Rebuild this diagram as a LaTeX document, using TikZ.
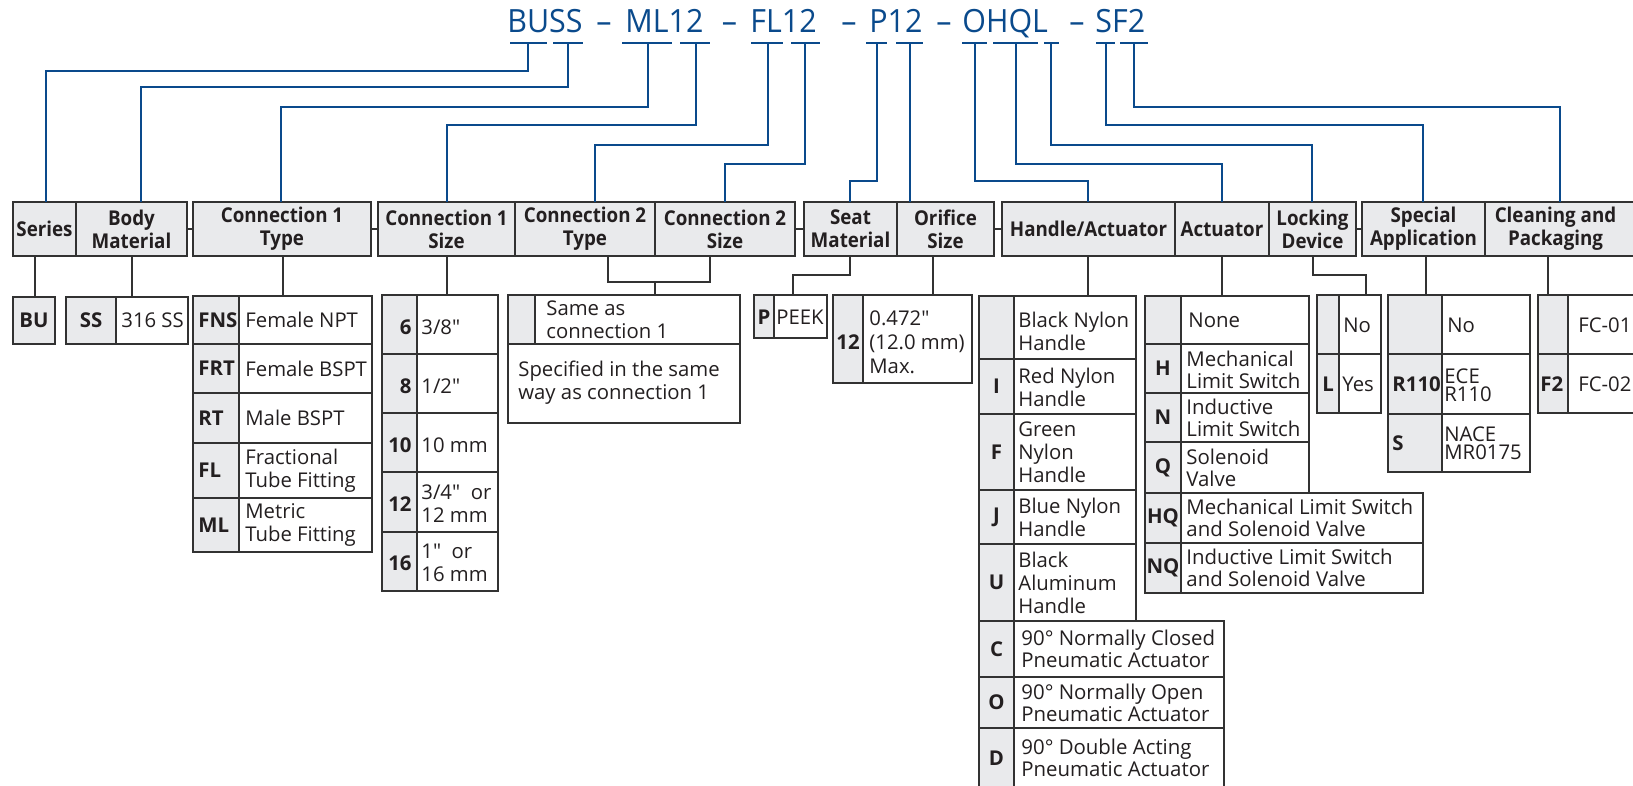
\documentclass[tikz,border=0pt]{standalone}
\usepackage{fontspec}
\setmainfont{Open Sans}[Ligatures=TeXOff]
\newfontfamily\hdrfamily{Open Sans}[FakeStretch=0.92,Ligatures=TeXOff]
\newfontfamily\ttlfamily{Open Sans}[FakeStretch=0.95,Ligatures=TeXOff]
\definecolor{ttlblue}{RGB}{10,74,140}
\definecolor{bdr}{RGB}{50,50,50}
\definecolor{gbg}{RGB}{233,234,236}
\definecolor{txtc}{RGB}{35,31,32}
\newcommand\cellat[6]{\node[cellbox, fill=#6, minimum width={((#4)-(#2))*0.5pt}, minimum height={((#5)-(#3))*0.5pt}] (#1) at (#2,#3) {};}
\newcommand\rowcells[6]{\cellat{#1g}{#2}{#5}{#3}{#6}{gbg}\cellat{#1w}{#3}{#5}{#4}{#6}{white}}
\newcommand\hdrat[6]{\node[hdrbox, minimum width={((#4)-(#2))*0.5pt}, minimum height={((#5)-(#3))*0.5pt}] (#1) at (#2,#3) {#6};}
\begin{document}
\begin{tikzpicture}[x=0.5pt,y=-0.5pt,
  cellbox/.style={draw=bdr, line width=0.65pt, inner sep=0pt, outer sep=0pt, anchor=north west},
  hdrbox/.style={cellbox, fill=gbg, align=center, text=txtc, font=\hdrfamily\bfseries\fontsize{10.2}{11.5}\selectfont},
  txt/.style={inner sep=0pt, anchor=west, align=left, text=txtc, font=\fontsize{10.15}{11.5}\selectfont},
  txtn/.style={txt, font=\fontsize{10.2}{11}\selectfont},
  txtt/.style={txt, font=\fontsize{10.15}{9}\selectfont},
  code/.style={inner sep=0pt, text=txtc, font=\bfseries\fontsize{10.2}{12}\selectfont},
  ttl/.style={inner sep=0pt, anchor=base west, text=ttlblue, font=\ttlfamily\fontsize{16}{19}\selectfont},
  ttld/.style={ttl, anchor=base},
  uline/.style={draw=ttlblue, line width=1.2pt},
  blink/.style={draw=ttlblue, line width=1pt},
  link/.style={draw=bdr, line width=0.65pt}]
\useasboundingbox (0,0) rectangle (1633,786);
\clip (0,0) rectangle (1633,786);
\fill[white] (0,0) rectangle (1633,786);

% ---------- title ----------
\node[ttl] (tA) at (507,33) {BUSS};
\node[ttld] (d1) at (604,33) {–};
\node[ttl] (tB) at (625,33) {ML12};
\node[ttld] (d2) at (729.5,33) {–};
\node[ttl] (tC) at (750,33) {FL12};
\node[ttld] (d3) at (849,33) {–};
\node[ttl] (tD) at (869,33) {P12};
\node[ttld] (d4) at (944,33) {–};
\node[ttl] (tE) at (962,33) {OHQL};
\node[ttld] (d5) at (1077,33) {–};
\node[ttl] (tF) at (1095,33) {SF2};

\coordinate (uBU) at (528,43);
\coordinate (uSS) at (568,43);
\coordinate (uML) at (648,43);
\coordinate (uCa) at (696,43);
\coordinate (uFL) at (768,43);
\coordinate (uCb) at (805,43);
\coordinate (uP) at (877,43);
\coordinate (uOr) at (910,43);
\coordinate (uO) at (975,43);
\coordinate (uHQ) at (1016,43);
\coordinate (uL) at (1051,43);
\coordinate (uS) at (1106,43);
\coordinate (uF) at (1134,43);
\draw[uline] (510,43) -- (547,43);
\draw[uline] (553,43) -- (583,43);
\draw[uline] (622,43) -- (672,43);
\draw[uline] (680,43) -- (710,43);
\draw[uline] (751,43) -- (783,43);
\draw[uline] (791,43) -- (820,43);
\draw[uline] (866,43) -- (887,43);
\draw[uline] (896,43) -- (923,43);
\draw[uline] (962,43) -- (987,43);
\draw[uline] (993,43) -- (1038,43);
\draw[uline] (1044,43) -- (1059,43);
\draw[uline] (1096,43) -- (1115,43);
\draw[uline] (1120,43) -- (1148,43);

% ---------- header row ----------
\hdrat{hSeries}{13}{202}{76}{256}{Series}
\hdrat{hBody}{76}{202}{187}{256}{Body\\Material}
\hdrat{hCaT}{193}{202}{371}{256}{Connection 1\\Type}
\hdrat{hCaS}{378}{202}{515}{256}{Connection 1\\Size}
\hdrat{hCbT}{515}{202}{655}{256}{Connection 2\\Type}
\hdrat{hCbS}{655}{202}{795}{256}{Connection 2\\Size}
\hdrat{hSeat}{804}{202}{897}{256}{Seat\\Material}
\hdrat{hOrif}{897}{202}{994}{256}{Orifice\\Size}
\hdrat{hHand}{1002}{202}{1175}{256}{Handle/Actuator}
\hdrat{hAct}{1175}{202}{1269}{256}{Actuator}
\hdrat{hLock}{1269}{202}{1356}{256}{Locking\\Device}
\hdrat{hSpec}{1362}{202}{1485}{256}{Special\\Application}
\hdrat{hClean}{1485}{202}{1640}{256}{\hspace*{-7pt}Cleaning and\\\hspace*{-7pt}Packaging}

\draw[link] (hBody.east) -- (hCaT.west);
\draw[link] (hCaT.east) -- (hCaS.west);
\draw[link] (hCbS.east) -- (hSeat.west);
\draw[link] (hOrif.east) -- (hHand.west);
\draw[link] (hLock.east) -- (hSpec.west);

% ---------- blue connectors ----------
\draw[blink] (uBU) -- (uBU |- 0,71) -| (hSeries.north -| 46,0);
\draw[blink] (uSS) -- (uSS |- 0,87) -| (hBody.north -| 141,0);
\draw[blink] (uML) -- (uML |- 0,107) -| (hCaT.north -| 281,0);
\draw[blink] (uCa) -- (uCa |- 0,125) -| (hCaS.north -| 447,0);
\draw[blink] (uFL) -- (uFL |- 0,145) -| (hCbT.north -| 595,0);
\draw[blink] (uCb) -- (uCb |- 0,164) -| (hCbS.north -| 725,0);
\draw[blink] (uP) -- (uP |- 0,181) -| (hSeat.north -| 850,0);
\draw[blink] (uOr) -- (hOrif.north -| uOr);
\draw[blink] (uO) -- (uO |- 0,181) -| (hHand.north -| 1088,0);
\draw[blink] (uHQ) -- (uHQ |- 0,164) -| (hAct.north -| 1222,0);
\draw[blink] (uL) -- (uL |- 0,145) -| (hLock.north -| 1312,0);
\draw[blink] (uS) -- (uS |- 0,125) -| (hSpec.north -| 1423,0);
\draw[blink] (uF) -- (uF |- 0,107) -| (hClean.north -| 1560,0);

% ---------- Series ----------
\cellat{tBU}{13}{297}{55}{344}{gbg}
\node[code] (tBUc) at (34,320.5) {BU};
\draw[link] (hSeries.south -| 35,0) -- (tBU.north -| 35,0);

% ---------- Body material ----------
\rowcells{tSS}{66}{116}{188}{297}{344}
\node[code] (tSSc) at (91,320.5) {SS};
\node[txt] (tSSt) at (121,320.5) {316 SS};
\draw[link] (hBody.south -| 132,0) -- (tSSg.north -| 132,0);

% ---------- Connection 1 type ----------
\rowcells{ta}{193}{239}{372}{296}{344}
\rowcells{tb}{193}{239}{372}{344}{393}
\rowcells{tc}{193}{239}{372}{393}{443}
\rowcells{td}{193}{239}{372}{443}{498}
\rowcells{te}{193}{239}{372}{498}{552}
\node[code, anchor=west] (taC) at (198,320) {FNS};
\node[code, anchor=west] (tbC) at (198,368.5) {FRT};
\node[code, anchor=west] (tcC) at (198,418) {RT};
\node[code, anchor=west] (tdC) at (198,470.5) {FL};
\node[code, anchor=west] (teC) at (198,525) {ML};
\node[txt] (taT) at (245,320) {Female NPT};
\node[txt] (tbT) at (245,368.5) {Female BSPT};
\node[txt] (tcT) at (245,418) {Male BSPT};
\node[txt] (tdT) at (245,470.5) {Fractional\\Tube Fitting};
\node[txt] (teT) at (245,525) {Metric\\Tube Fitting};
\draw[link] (hCaT.south -| 283,0) -- (tag.north -| 283,0);

% ---------- Connection 1 size ----------
\rowcells{sa}{382}{417}{498}{295}{354}
\rowcells{sb}{382}{417}{498}{354}{413}
\rowcells{sc}{382}{417}{498}{413}{472}
\rowcells{sd}{382}{417}{498}{472}{532}
\rowcells{se}{382}{417}{498}{532}{591}
\node[code, anchor=east] (saC) at (412,327) {6};
\node[code, anchor=east] (sbC) at (412,386) {8};
\node[code, anchor=east] (scC) at (412,445) {10};
\node[code, anchor=east] (sdC) at (412,504) {12};
\node[code, anchor=east] (seC) at (412,563) {16};
\node[txt] (saT) at (421,327) {3/8"};
\node[txt] (sbT) at (421,386) {1/2"};
\node[txt] (scT) at (421,445) {10 mm};
\node[txt] (sdT) at (421,504) {3/4"\ \ or\\12 mm};
\node[txt] (seT) at (421,563) {1"\ \ or\\16 mm};
\draw[link] (hCaS.south -| 447,0) -- (saw.north -| 447,0);

% ---------- Connection 2 ----------
\coordinate (brC) at (655,282);
\draw[link] (hCbT.south -| 608,0) |- (brC) -| (hCbS.south -| 710,0);
\cellat{qag}{508}{295}{535}{344}{gbg}
\cellat{qaw}{535}{295}{740}{344}{white}
\cellat{qb}{508}{344}{740}{423}{white}
\draw[link] (brC) -- (qaw.north -| brC);
\node[txt] (qaT) at (546,320) {Same as\\connection 1};
\node[txt] (qbT) at (518,383) {Specified in the same\\way as connection 1};

% ---------- Seat material ----------
\rowcells{pa}{754}{774}{827}{295}{338}
\node[code] (paC) at (764,317) {P};
\node[txt] (paT) at (776,317) {PEEK};
\coordinate (brS) at (793,275);
\draw[link] (hSeat.south -| 850,0) |- (brS) -- (paw.north -| brS);

% ---------- Orifice ----------
\rowcells{oa}{833}{863}{972}{295}{383}
\node[code] (oaC) at (848,342) {12};
\node[txt, font=\fontsize{10.15}{12}\selectfont] (oaT) at (869,342) {0.472"\\(12.0 mm)\\Max.};
\draw[link] (hOrif.south -| 933,0) -- (oaw.north -| 933,0);

% ---------- Handle / actuator ----------
\rowcells{ha}{979}{1014}{1136}{296}{359}
\rowcells{hb}{979}{1014}{1136}{359}{414}
\rowcells{hc}{979}{1014}{1136}{414}{490}
\rowcells{hd}{979}{1014}{1136}{490}{544}
\rowcells{he}{979}{1014}{1136}{544}{621}
\rowcells{hf}{979}{1014}{1224}{621}{677}
\rowcells{hg}{979}{1014}{1224}{677}{728}
\rowcells{hh}{979}{1014}{1224}{728}{790}
\node[code] (hbC) at (996.5,386.5) {I};
\node[code] (hcC) at (996.5,452) {F};
\node[code] (hdC) at (996.5,517) {J};
\node[code] (heC) at (996.5,582.5) {U};
\node[code] (hfC) at (996.5,649) {C};
\node[code] (hgC) at (996.5,702.5) {O};
\node[code] (hhC) at (996.5,758) {D};
\node[txt] (haT) at (1018,331) {Black Nylon\\Handle};
\node[txt] (hbT) at (1018,387) {Red Nylon\\Handle};
\node[txt] (hcT) at (1018,452) {Green\\Nylon\\Handle};
\node[txt] (hdT) at (1018,517) {Blue Nylon\\Handle};
\node[txt] (heT) at (1018,582.5) {Black\\Aluminum\\Handle};
\node[txtn] (hfT) at (1021,649) {90° Normally Closed\\Pneumatic Actuator};
\node[txtn] (hgT) at (1021,702.5) {90° Normally Open\\Pneumatic Actuator};
\node[txtn] (hhT) at (1021,758) {90° Double Acting\\Pneumatic Actuator};
\draw[link] (hHand.south -| 1088,0) -- (haw.north -| 1088,0);

% ---------- Actuator ----------
\rowcells{aa}{1145}{1181}{1309}{296}{344}
\rowcells{ab}{1145}{1181}{1309}{344}{393}
\rowcells{ac}{1145}{1181}{1309}{393}{442}
\rowcells{ad}{1145}{1181}{1309}{442}{493}
\rowcells{ae}{1145}{1181}{1423}{493}{543}
\rowcells{af}{1145}{1181}{1423}{543}{593}
\node[code] (abC) at (1163,368.5) {H};
\node[code] (acC) at (1163,417.5) {N};
\node[code] (adC) at (1163,467.5) {Q};
\node[code] (aeC) at (1163,518) {HQ};
\node[code] (afC) at (1163,568) {NQ};
\node[txtn] (aaT) at (1188,320) {None};
\node[txtn] (abT) at (1186,370) {Mechanical\\Limit Switch};
\node[txtn] (acT) at (1186,417.5) {Inductive\\Limit Switch};
\node[txtn] (adT) at (1186,468) {Solenoid\\Valve};
\node[txtn] (aeT) at (1186,518) {Mechanical Limit Switch\\and Solenoid Valve};
\node[txtn] (afT) at (1186,568) {Inductive Limit Switch\\and Solenoid Valve};
\draw[link] (hAct.south -| 1222,0) -- (aaw.north -| 1222,0);

% ---------- Locking device ----------
\rowcells{la}{1317}{1339}{1381}{295}{354}
\rowcells{lb}{1317}{1339}{1381}{354}{413}
\node[code] (lbC) at (1328,384) {L};
\node[txt] (laT) at (1343,325) {No};
\node[txt] (lbT) at (1342,384) {Yes};
\coordinate (brL) at (1366,275);
\draw[link] (hLock.south -| 1313,0) |- (brL) -- (law.north -| brL);

% ---------- Special application ----------
\rowcells{xa}{1388}{1442}{1530}{295}{354}
\rowcells{xb}{1388}{1442}{1530}{354}{414}
\rowcells{xc}{1388}{1442}{1530}{414}{472}
\node[code, anchor=west] (xbC) at (1392,384) {R110};
\node[code, anchor=west] (xcC) at (1392,443) {S};
\node[txt] (xaT) at (1447,325) {No};
\node[txtt] (xbT) at (1444,385) {ECE\\R110};
\node[txtt] (xcT) at (1444,443) {NACE\\MR0175};
\draw[link] (hSpec.south -| 1426,0) -- (xag.north -| 1426,0);

% ---------- Cleaning and packaging ----------
\rowcells{ka}{1538}{1568}{1640}{295}{354}
\rowcells{kb}{1538}{1568}{1640}{354}{413}
\node[code, anchor=west] (kbC) at (1540,384) {F2};
\node[txt] (kaT) at (1578,325) {FC-01};
\node[txt] (kbT) at (1578,384) {FC-02};
\draw[link] (hClean.south -| 1548,0) -- (kag.north -| 1548,0);
\end{tikzpicture}
\end{document}
